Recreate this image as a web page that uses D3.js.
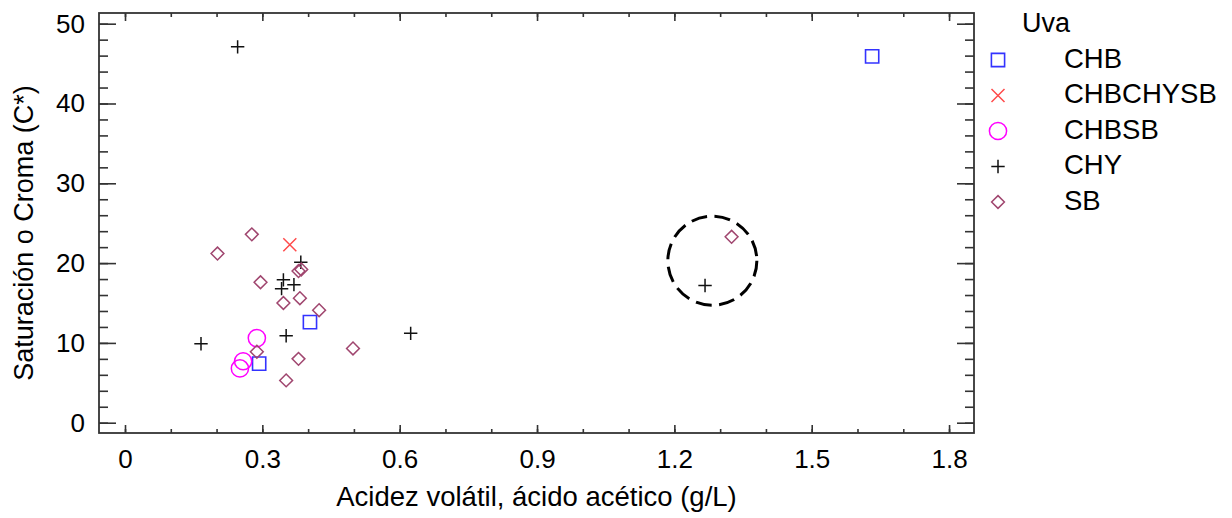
<!DOCTYPE html>
<html>
<head>
<meta charset="utf-8">
<script src="https://cdn.jsdelivr.net/npm/d3@7"></script>
<style>
  html, body { margin: 0; padding: 0; background: #fff; }
  svg { display: block; font-family: "Liberation Sans", Arial, sans-serif; }
</style>
</head>
<body>
<svg id="chart" width="1232" height="518"></svg>
<script>
// ---------------- DATA ----------------
const categories = ["CHB", "CHBCHYSB", "CHBSB", "CHY", "SB"];

const chbX = [1.632, 0.404, 0.293];
const chbY = [45.9, 12.6, 7.4];

const chbchysbX = [0.360];
const chbchysbY = [22.3];

const chbsbX = [0.288, 0.258, 0.251];
const chbsbY = [10.6, 7.7, 6.8];

const chyX = [0.246, 0.384, 0.346, 0.369, 0.342, 0.352, 0.166, 0.624, 1.267];
const chyY = [47.1, 20.1, 17.9, 17.3, 16.8, 10.9, 9.9, 11.2, 17.2];

const sbX = [0.277, 0.202, 0.296, 0.379, 0.385, 0.346, 0.382, 0.424, 0.288, 0.379, 0.498, 0.352, 1.325];
const sbY = [23.6, 21.2, 17.6, 19.0, 19.2, 15.0, 15.6, 14.1, 8.9, 8.0, 9.3, 5.3, 23.3];

const xMajorTicks = [0, 0.3, 0.6, 0.9, 1.2, 1.5, 1.8];
const xTickLabels = ["0", "0.3", "0.6", "0.9", "1.2", "1.5", "1.8"];
const yMajorTicks = [0, 10, 20, 30, 40, 50];
const yTickLabels = ["0", "10", "20", "30", "40", "50"];

const highlightCenter = [1.283, 20.3];

const xTitle = "Acidez volátil, ácido acético (g/L)";
const yTitle = "Saturación o Croma (C*)";
const legendTitle = "Uva";

// ---------------- LAYOUT ----------------
const W = 1232, H = 518;
const L = 99, R = 974, T = 13, B = 433;
const svg = d3.select("#chart");

const x = d3.scaleLinear().domain([-0.0568, 1.8545]).range([L, R]);
const y = d3.scaleLinear().domain([-1.29, 51.34]).range([B, T]);

const xMinor = d3.range(0, 19).map(i => +(i * 0.1).toFixed(1));
const yMinor = d3.range(0, 26).map(i => i * 2);

const axisColor = "#333";
const fontSize = 26;

function styleAxis(g) {
  g.select(".domain").remove();
  g.selectAll(".tick line").attr("stroke", axisColor).attr("stroke-width", 1.6);
  g.selectAll(".tick text").attr("fill", "#000").attr("font-size", fontSize)
    .attr("font-family", "'Liberation Sans', Arial, sans-serif");
}

// bottom
svg.append("g").attr("transform", `translate(0,${B})`)
  .call(d3.axisBottom(x).tickValues(xMinor).tickSize(-4).tickFormat(""))
  .call(styleAxis);
svg.append("g").attr("transform", `translate(0,${B})`)
  .call(d3.axisBottom(x).tickValues(xMajorTicks).tickSize(-8).tickPadding(17)
    .tickFormat((d, i) => xTickLabels[i]))
  .call(styleAxis);
// top
svg.append("g").attr("transform", `translate(0,${T})`)
  .call(d3.axisTop(x).tickValues(xMinor).tickSize(-4).tickFormat(""))
  .call(styleAxis);
svg.append("g").attr("transform", `translate(0,${T})`)
  .call(d3.axisTop(x).tickValues(xMajorTicks).tickSize(-8).tickFormat(""))
  .call(styleAxis);
// left
svg.append("g").attr("transform", `translate(${L},0)`)
  .call(d3.axisLeft(y).tickValues(yMinor).tickSize(-9).tickFormat(""))
  .call(styleAxis);
svg.append("g").attr("transform", `translate(${L},0)`)
  .call(d3.axisLeft(y).tickValues(yMajorTicks).tickSize(-17).tickPadding(14)
    .tickFormat((d, i) => yTickLabels[i]))
  .call(styleAxis);
// right
svg.append("g").attr("transform", `translate(${R},0)`)
  .call(d3.axisRight(y).tickValues(yMinor).tickSize(-9).tickFormat(""))
  .call(styleAxis);
svg.append("g").attr("transform", `translate(${R},0)`)
  .call(d3.axisRight(y).tickValues(yMajorTicks).tickSize(-17).tickFormat(""))
  .call(styleAxis);

// frame
svg.append("rect").attr("x", L).attr("y", T).attr("width", R - L).attr("height", B - T)
  .attr("fill", "none").attr("stroke", axisColor).attr("stroke-width", 1.8);

// ---------------- SYMBOLS ----------------
const symSquare = { draw(c, s) { const r = 6.6; c.rect(-r, -r, 2 * r, 2 * r); } };
const symTimes = { draw(c, s) { const r = 6.5; c.moveTo(-r, -r); c.lineTo(r, r); c.moveTo(r, -r); c.lineTo(-r, r); } };
const symCircle = { draw(c, s) { const r = 8.6; c.moveTo(r, 0); c.arc(0, 0, r, 0, 2 * Math.PI); } };
const symPlus = { draw(c, s) { const r = 6.7; c.moveTo(-r, 0); c.lineTo(r, 0); c.moveTo(0, -r); c.lineTo(0, r); } };
const symDiamond = { draw(c, s) { const r = 6.4; c.moveTo(0, -r); c.lineTo(r, 0); c.lineTo(0, r); c.lineTo(-r, 0); c.closePath(); } };

const seriesStyle = {
  "CHB":      { type: symSquare,  color: "#3333ff", width: 1.6 },
  "CHBCHYSB": { type: symTimes,   color: "#ff4a4a", width: 1.5 },
  "CHBSB":    { type: symCircle,  color: "#ff00ff", width: 1.5 },
  "CHY":      { type: symPlus,    color: "#111111", width: 1.5 },
  "SB":       { type: symDiamond, color: "#a0466f", width: 1.5 }
};

const seriesData = {
  "CHB": [chbX, chbY],
  "CHBCHYSB": [chbchysbX, chbchysbY],
  "CHBSB": [chbsbX, chbsbY],
  "CHY": [chyX, chyY],
  "SB": [sbX, sbY]
};

const plot = svg.append("g");
categories.forEach(cat => {
  const [xs, ys] = seriesData[cat];
  const st = seriesStyle[cat];
  const pts = xs.map((v, i) => ({ x: v, y: ys[i] }));
  plot.selectAll(null).data(pts).enter().append("path")
    .attr("d", d3.symbol().type(st.type))
    .attr("transform", d => `translate(${x(d.x)},${y(d.y)})`)
    .attr("fill", "none").attr("stroke", st.color).attr("stroke-width", st.width);
});

// highlight dashed circle
svg.append("circle")
  .attr("cx", x(highlightCenter[0])).attr("cy", y(highlightCenter[1])).attr("r", 44.5)
  .attr("fill", "none").attr("stroke", "#000").attr("stroke-width", 3)
  .attr("stroke-dasharray", "16 7.5");

// ---------------- TITLES ----------------
svg.append("text").attr("x", (L + R) / 2).attr("y", 506).attr("text-anchor", "middle")
  .attr("font-size", 27.5).attr("fill", "#000").text(xTitle);
svg.append("text").attr("transform", `translate(33,${233}) rotate(-90)`)
  .attr("text-anchor", "middle").attr("font-size", 27).attr("fill", "#000").text(yTitle);

// ---------------- LEGEND ----------------
const legend = svg.append("g");
legend.append("text").attr("x", 1022).attr("y", 32).attr("font-size", 27)
  .attr("fill", "#000").text(legendTitle);
const legY = d3.scaleLinear().domain([0, 4]).range([60, 202]);
categories.forEach((cat, i) => {
  const st = seriesStyle[cat];
  legend.append("path").attr("d", d3.symbol().type(st.type))
    .attr("transform", `translate(998,${legY(i)})`)
    .attr("fill", "none").attr("stroke", st.color).attr("stroke-width", st.width);
  legend.append("text").attr("x", 1064).attr("y", legY(i) + 7.5)
    .attr("font-size", 27.5).attr("fill", "#000").text(cat);
});
</script>
</body>
</html>
